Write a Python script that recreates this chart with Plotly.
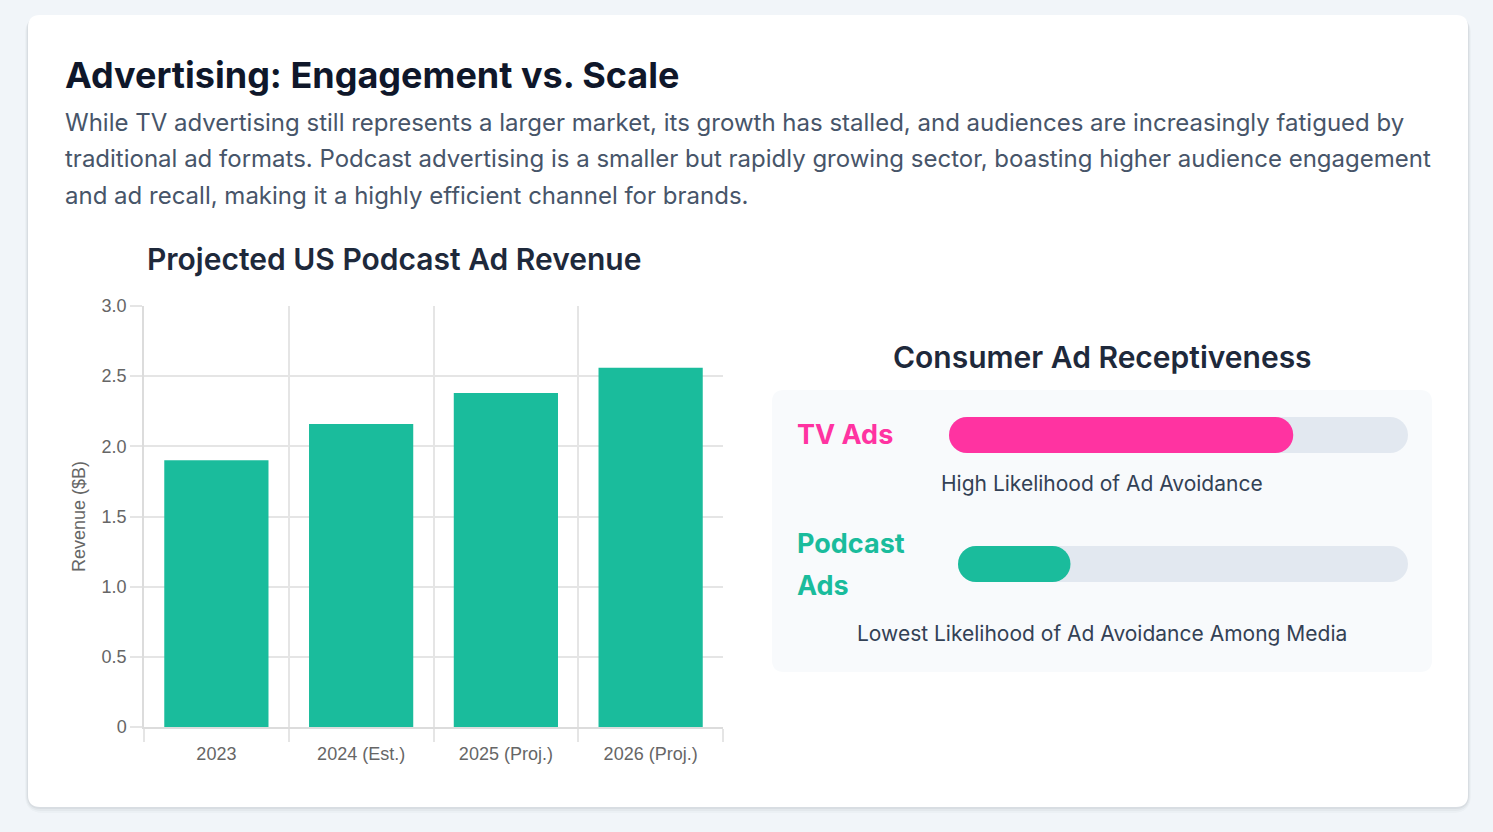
import plotly.graph_objects as go

# ---------------- data ----------------
years = ["2023", "2024 (Est.)", "2025 (Proj.)", "2026 (Proj.)"]
revenue = [1.9, 2.16, 2.38, 2.56]
ytick_vals = [0, 0.5, 1.0, 1.5, 2.0, 2.5, 3.0]
ytick_text = ["0", "0.5", "1.0", "1.5", "2.0", "2.5", "3.0"]

media_labels = [["TV Ads"], ["Podcast", "Ads"]]
avoidance = [75, 25]  # percent fill of the receptiveness bars
track_full = 100
captions = ["High Likelihood of Ad Avoidance", "Lowest Likelihood of Ad Avoidance Among Media"]

title = "Advertising: Engagement vs. Scale"
desc_lines = [
    "While TV advertising still represents a larger market, its growth has stalled, and audiences are increasingly fatigued by",
    "traditional ad formats. Podcast advertising is a smaller but rapidly growing sector, boasting higher audience engagement",
    "and ad recall, making it a highly efficient channel for brands.",
]
chart_title = "Projected US Podcast Ad Revenue"
panel_title = "Consumer Ad Receptiveness"
y_title = "Revenue ($B)"

TEAL = "#1abc9c"
PINK = "#ff33a1"
TRACK = "#e2e8f0"
media_colors = [PINK, TEAL]

# ---------------- layout helpers ----------------
W, H = 1493, 832


def px(x):
    return x / W


def py(y):
    return 1 - y / H


def rrect_path(x0, y0, x1, y1, r):
    pts = [
        ("M", [(x0 + r, y0)]),
        ("L", [(x1 - r, y0)]),
        ("Q", [(x1, y0), (x1, y0 + r)]),
        ("L", [(x1, y1 - r)]),
        ("Q", [(x1, y1), (x1 - r, y1)]),
        ("L", [(x0 + r, y1)]),
        ("Q", [(x0, y1), (x0, y1 - r)]),
        ("L", [(x0, y0 + r)]),
        ("Q", [(x0, y0), (x0 + r, y0)]),
    ]
    s = ""
    for cmd, ps in pts:
        s += cmd + " " + " ".join(f"{px(a):.6f},{py(b):.6f}" for a, b in ps) + " "
    return s + "Z"


INTER = "Inter"
TICKFONT = dict(family="Liberation Sans, Arial", size=18, color="#666666")
GRID = "#e5e5e5"

fig = go.Figure()

# main bar chart
fig.add_trace(go.Bar(
    x=years, y=revenue, marker=dict(color=TEAL, line=dict(width=0)),
    xaxis="x", yaxis="y", hoverinfo="skip", showlegend=False,
))

# receptiveness bars (track + fill)
track_geo = [(949, 1408, 417, 453), (958, 1408, 546, 582)]
for i, v in enumerate(avoidance):
    xa = f"x{i + 2}"
    ya = f"y{i + 2}"
    for length, col in [(track_full, TRACK), (v, media_colors[i])]:
        fig.add_trace(go.Bar(
            x=[length], y=[0], base=[0], orientation="h", width=[1],
            marker=dict(color=col, line=dict(width=0), cornerradius="50%"),
            xaxis=xa, yaxis=ya, hoverinfo="skip", showlegend=False,
        ))

layout = dict(
    template="none",
    width=W, height=H, autosize=False,
    margin=dict(l=0, r=0, t=0, b=0, pad=0, autoexpand=False),
    paper_bgcolor="#f1f5f9", plot_bgcolor="rgba(0,0,0,0)",
    barmode="overlay", bargap=0.28, showlegend=False,
    xaxis=dict(
        domain=[px(144), px(723)], type="category", range=[-0.5, 3.5],
        tickson="boundaries", showgrid=True, gridcolor=GRID, gridwidth=1.5,
        ticks="outside", ticklen=13, tickcolor=GRID, tickwidth=1.5,
        ticklabelstandoff=10,
        showline=True, linecolor="#dcdcdc", linewidth=1.5,
        tickfont=TICKFONT, fixedrange=True, automargin=False,
    ),
    yaxis=dict(
        domain=[py(727), py(306)], range=[0, 3],
        tickvals=ytick_vals, ticktext=ytick_text,
        showgrid=True, gridcolor=GRID, gridwidth=1.5, zeroline=False,
        ticks="outside", ticklen=12, tickcolor=GRID, tickwidth=1.5,
        showline=True, linecolor="#dcdcdc", linewidth=1.5,
        tickfont=TICKFONT, fixedrange=True, automargin=False,
        title=dict(text=y_title, font=TICKFONT, standoff=11),
    ),
)
for i, (x0, x1, y0, y1) in enumerate(track_geo):
    layout[f"xaxis{i + 2}"] = dict(domain=[px(x0), px(x1)], range=[0, track_full], visible=False,
                                   fixedrange=True, automargin=False)
    layout[f"yaxis{i + 2}"] = dict(domain=[py(y1), py(y0)], range=[-0.5, 0.5], visible=False,
                                   fixedrange=True, automargin=False)

shapes = []
# card shadow
for off, op in [(6, 0.025), (4, 0.035), (2, 0.05)]:
    shapes.append(dict(type="path", xref="paper", yref="paper", layer="below",
                       path=rrect_path(28 - off / 2, 15 + 1, 1468 + off / 2, 807 + off, 12 + off),
                       fillcolor=f"rgba(15,23,42,{op})", line=dict(width=0)))
shapes.append(dict(type="path", xref="paper", yref="paper", layer="below",
                   path=rrect_path(28, 15, 1468, 807, 12), fillcolor="#ffffff", line=dict(width=0)))
# receptiveness panel
shapes.append(dict(type="path", xref="paper", yref="paper", layer="below",
                   path=rrect_path(772, 390, 1432, 672, 12), fillcolor="#f8fafc", line=dict(width=0)))
layout["shapes"] = shapes

ann = []


def add_text(text, x, y, size, color, weight=400, xanchor="left", family=INTER):
    ann.append(dict(text=text, x=px(x), y=py(y), xref="paper", yref="paper",
                    xanchor=xanchor, yanchor="middle", showarrow=False,
                    font=dict(family=family, size=size, color=color, weight=weight)))


add_text(title, 63, 75, 36, "#0f172a", 700)
for k, line in enumerate(desc_lines):
    add_text(line, 63, 123 + 36 * k, 24, "#475569", 400)
add_text(chart_title, 394, 259, 30, "#1e293b", 600, "center")
add_text(panel_title, 1102, 357, 30, "#1e293b", 600, "center")

label_pos = [[434], [543, 585]]
caption_y = [483, 633]
for i in range(len(avoidance)):
    for line, yy in zip(media_labels[i], label_pos[i]):
        add_text(line, 795, yy, 27, media_colors[i], 700)
    add_text(captions[i], 1102, caption_y[i], 21, "#334155", 400, "center")

layout["annotations"] = ann
fig.update_layout(**layout)

fig.write_html("out.html", config={"displayModeBar": False})
